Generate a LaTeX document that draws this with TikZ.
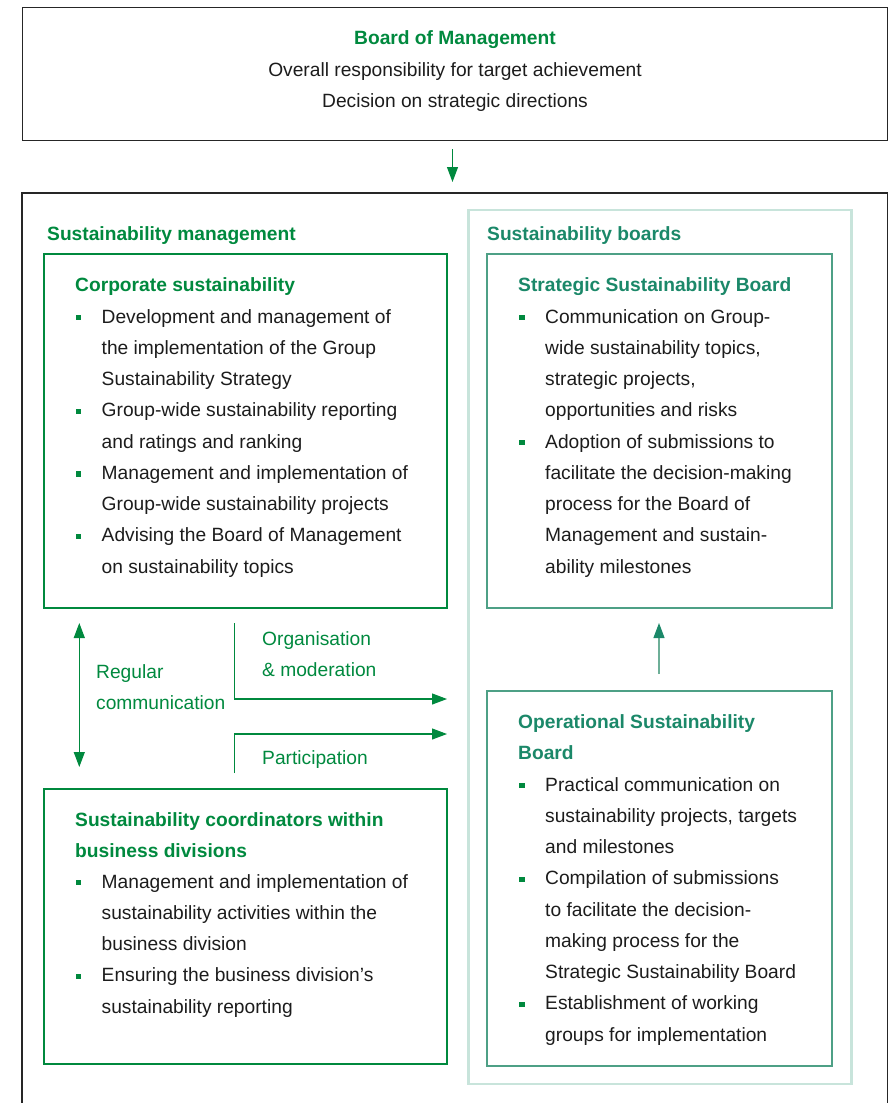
\documentclass[tikz,border=0pt]{standalone}
\usepackage{fontspec}
\setmainfont{Liberation Sans}
\usetikzlibrary{arrows.meta,calc}
\definecolor{gr}{RGB}{0,137,62}
\definecolor{tl}{RGB}{27,136,105}
\definecolor{tlbox}{RGB}{78,160,134}
\definecolor{tlline}{RGB}{110,175,152}
\definecolor{ltl}{RGB}{200,228,219}
\definecolor{txtc}{RGB}{28,28,28}
\tikzset{mytip/.tip={Triangle[length=15pt,width=11pt]}}
\begin{document}
\begin{tikzpicture}[x=1pt,y=-1pt,
  t/.style={anchor=base west, inner sep=0pt, font=\fontsize{19.2}{23}\selectfont, text=txtc},
  tc/.style={t, anchor=base},
  h/.style={t, font=\fontsize{19.2}{23}\selectfont\bfseries, text=gr},
  ht/.style={h, text=tl},
  lab/.style={t, text=gr},
  bul/.style={fill=gr, inner sep=0pt, minimum size=5.5pt, anchor=center},
  box/.style={draw, inner sep=0pt, anchor=north west},
  gbox/.style={box, draw=gr, line width=2.4pt},
  tbox/.style={box, draw=tlbox, line width=2.4pt},
  arr/.style={-{mytip}, line width=1.1pt, draw=gr},
]
\useasboundingbox (0,0) rectangle (893,1103);

% ---------- boxes
\node[box, line width=1.4pt, draw=black!85, minimum width=865pt, minimum height=133pt] (bom) at (22,7) {};
\coordinate (obl) at (22,1115);
\coordinate (otr) at (887.5,193);
\coordinate (obr) at (887.5,1115);
\draw[line width=1.4pt, draw=black!85] (obl) |- (otr) -- (obr);

\node[box, draw=ltl, line width=2.7pt, minimum width=383pt, minimum height=874pt] (sb) at (467,208.5) {};
\node[gbox, minimum width=403pt, minimum height=354pt] (cs) at (42.5,252.5) {};
\node[gbox, minimum width=403pt, minimum height=275pt] (coord) at (42.5,788) {};
\node[tbox, minimum width=345pt, minimum height=354.5pt] (ssb) at (486,252.5) {};
\node[tbox, minimum width=345pt, minimum height=374.5pt] (osb) at (486,690) {};

% ---------- top box text
\node[tc, font=\fontsize{19.2}{23}\selectfont\bfseries, text=gr] (bomh) at (455,44) {Board of Management};
\node[tc] (boml1) at (455,76) {Overall responsibility for target achievement};
\node[tc] (boml2) at (455,107) {Decision on strategic directions};

% ---------- arrow board -> outer
\coordinate (a1) at (452.5,149);
\coordinate (a2) at (452.5,182);
\draw[arr] (a1) -- (a2);

% ---------- section titles
\node[h] (smt) at (47,240) {Sustainability management};
\node[ht] (sbt) at (487,240) {Sustainability boards};

% ---------- corporate sustainability
\node[h] (csh) at (75,291) {Corporate sustainability};
\node[t] (cs1) at (101.5,323) {Development and management of};
\node[t] (cs2) at (101.5,354.25) {the implementation of the Group};
\node[t] (cs3) at (101.5,385.5) {Sustainability Strategy};
\node[t] (cs4) at (101.5,416.75) {Group-wide sustainability reporting};
\node[t] (cs5) at (101.5,448) {and ratings and ranking};
\node[t] (cs6) at (101.5,479.25) {Management and implementation of};
\node[t] (cs7) at (101.5,510.5) {Group-wide sustainability projects};
\node[t] (cs8) at (101.5,541.75) {Advising the Board of Management};
\node[t] (cs9) at (101.5,573) {on sustainability topics};
\node[bul] (csb1) at (78.5,317.5) {};
\node[bul] (csb2) at (78.5,411.25) {};
\node[bul] (csb3) at (78.5,473.75) {};
\node[bul] (csb4) at (78.5,536.25) {};

% ---------- strategic sustainability board
\node[ht] (ssbh) at (518,291) {Strategic Sustainability Board};
\node[t] (ss1) at (545,323) {Communication on Group-};
\node[t] (ss2) at (545,354.25) {wide sustainability topics,};
\node[t] (ss3) at (545,385.5) {strategic projects,};
\node[t] (ss4) at (545,416.75) {opportunities and risks};
\node[t] (ss5) at (545,448) {Adoption of submissions to};
\node[t] (ss6) at (545,479.25) {facilitate the decision-making};
\node[t] (ss7) at (545,510.5) {process for the Board of};
\node[t] (ss8) at (545,541.75) {Management and sustain-};
\node[t] (ss9) at (545,573) {ability milestones};
\node[bul] (ssb1) at (522,317.5) {};
\node[bul] (ssb2) at (522,442.5) {};

% ---------- middle connectors
\coordinate (rc1) at (79.3,623);
\coordinate (rc2) at (79.3,767);
\draw[arr, {mytip}-{mytip}] (rc1) -- (rc2);
\node[lab] (rl1) at (96,678) {Regular};
\node[lab] (rl2) at (96,709) {communication};

\coordinate (o1) at (234.3,623);
\coordinate (o2) at (447,699);
\draw[arr] (o1) |- (o2);
\node[lab] (ol1) at (262,645) {Organisation};
\node[lab] (ol2) at (262,676) {\& moderation};

\coordinate (p1) at (234.3,773);
\coordinate (p2) at (447,734);
\draw[arr] (p1) |- (p2);
\node[lab] (pl1) at (262,764) {Participation};

\coordinate (u1) at (659,674);
\coordinate (u2) at (659,623);
\draw[-{Triangle[length=15pt,width=11pt,color=tl]}, line width=1.1pt, draw=tlline] (u1) -- (u2);

% ---------- sustainability coordinators
\node[h] (coh1) at (75,826) {Sustainability coordinators within};
\node[h] (coh2) at (75,857) {business divisions};
\node[t] (co1) at (101.5,888) {Management and implementation of};
\node[t] (co2) at (101.5,919.25) {sustainability activities within the};
\node[t] (co3) at (101.5,950.5) {business division};
\node[t] (co4) at (101.5,981.75) {Ensuring the business division’s};
\node[t] (co5) at (101.5,1013) {sustainability reporting};
\node[bul] (cob1) at (78.5,882.5) {};
\node[bul] (cob2) at (78.5,976.25) {};

% ---------- operational sustainability board
\node[ht] (osh1) at (518,728) {Operational Sustainability};
\node[ht] (osh2) at (518,759) {Board};
\node[t] (os1) at (545,791) {Practical communication on};
\node[t] (os2) at (545,822.25) {sustainability projects, targets};
\node[t] (os3) at (545,853.5) {and milestones};
\node[t] (os4) at (545,884.75) {Compilation of submissions};
\node[t] (os5) at (545,916) {to facilitate the decision-};
\node[t] (os6) at (545,947.25) {making process for the};
\node[t] (os7) at (545,978.5) {Strategic Sustainability Board};
\node[t] (os8) at (545,1009.75) {Establishment of working};
\node[t] (os9) at (545,1041) {groups for implementation};
\node[bul] (osb1) at (522,785.5) {};
\node[bul] (osb2) at (522,879.25) {};
\node[bul] (osb3) at (522,1004.25) {};
\end{tikzpicture}
\end{document}
